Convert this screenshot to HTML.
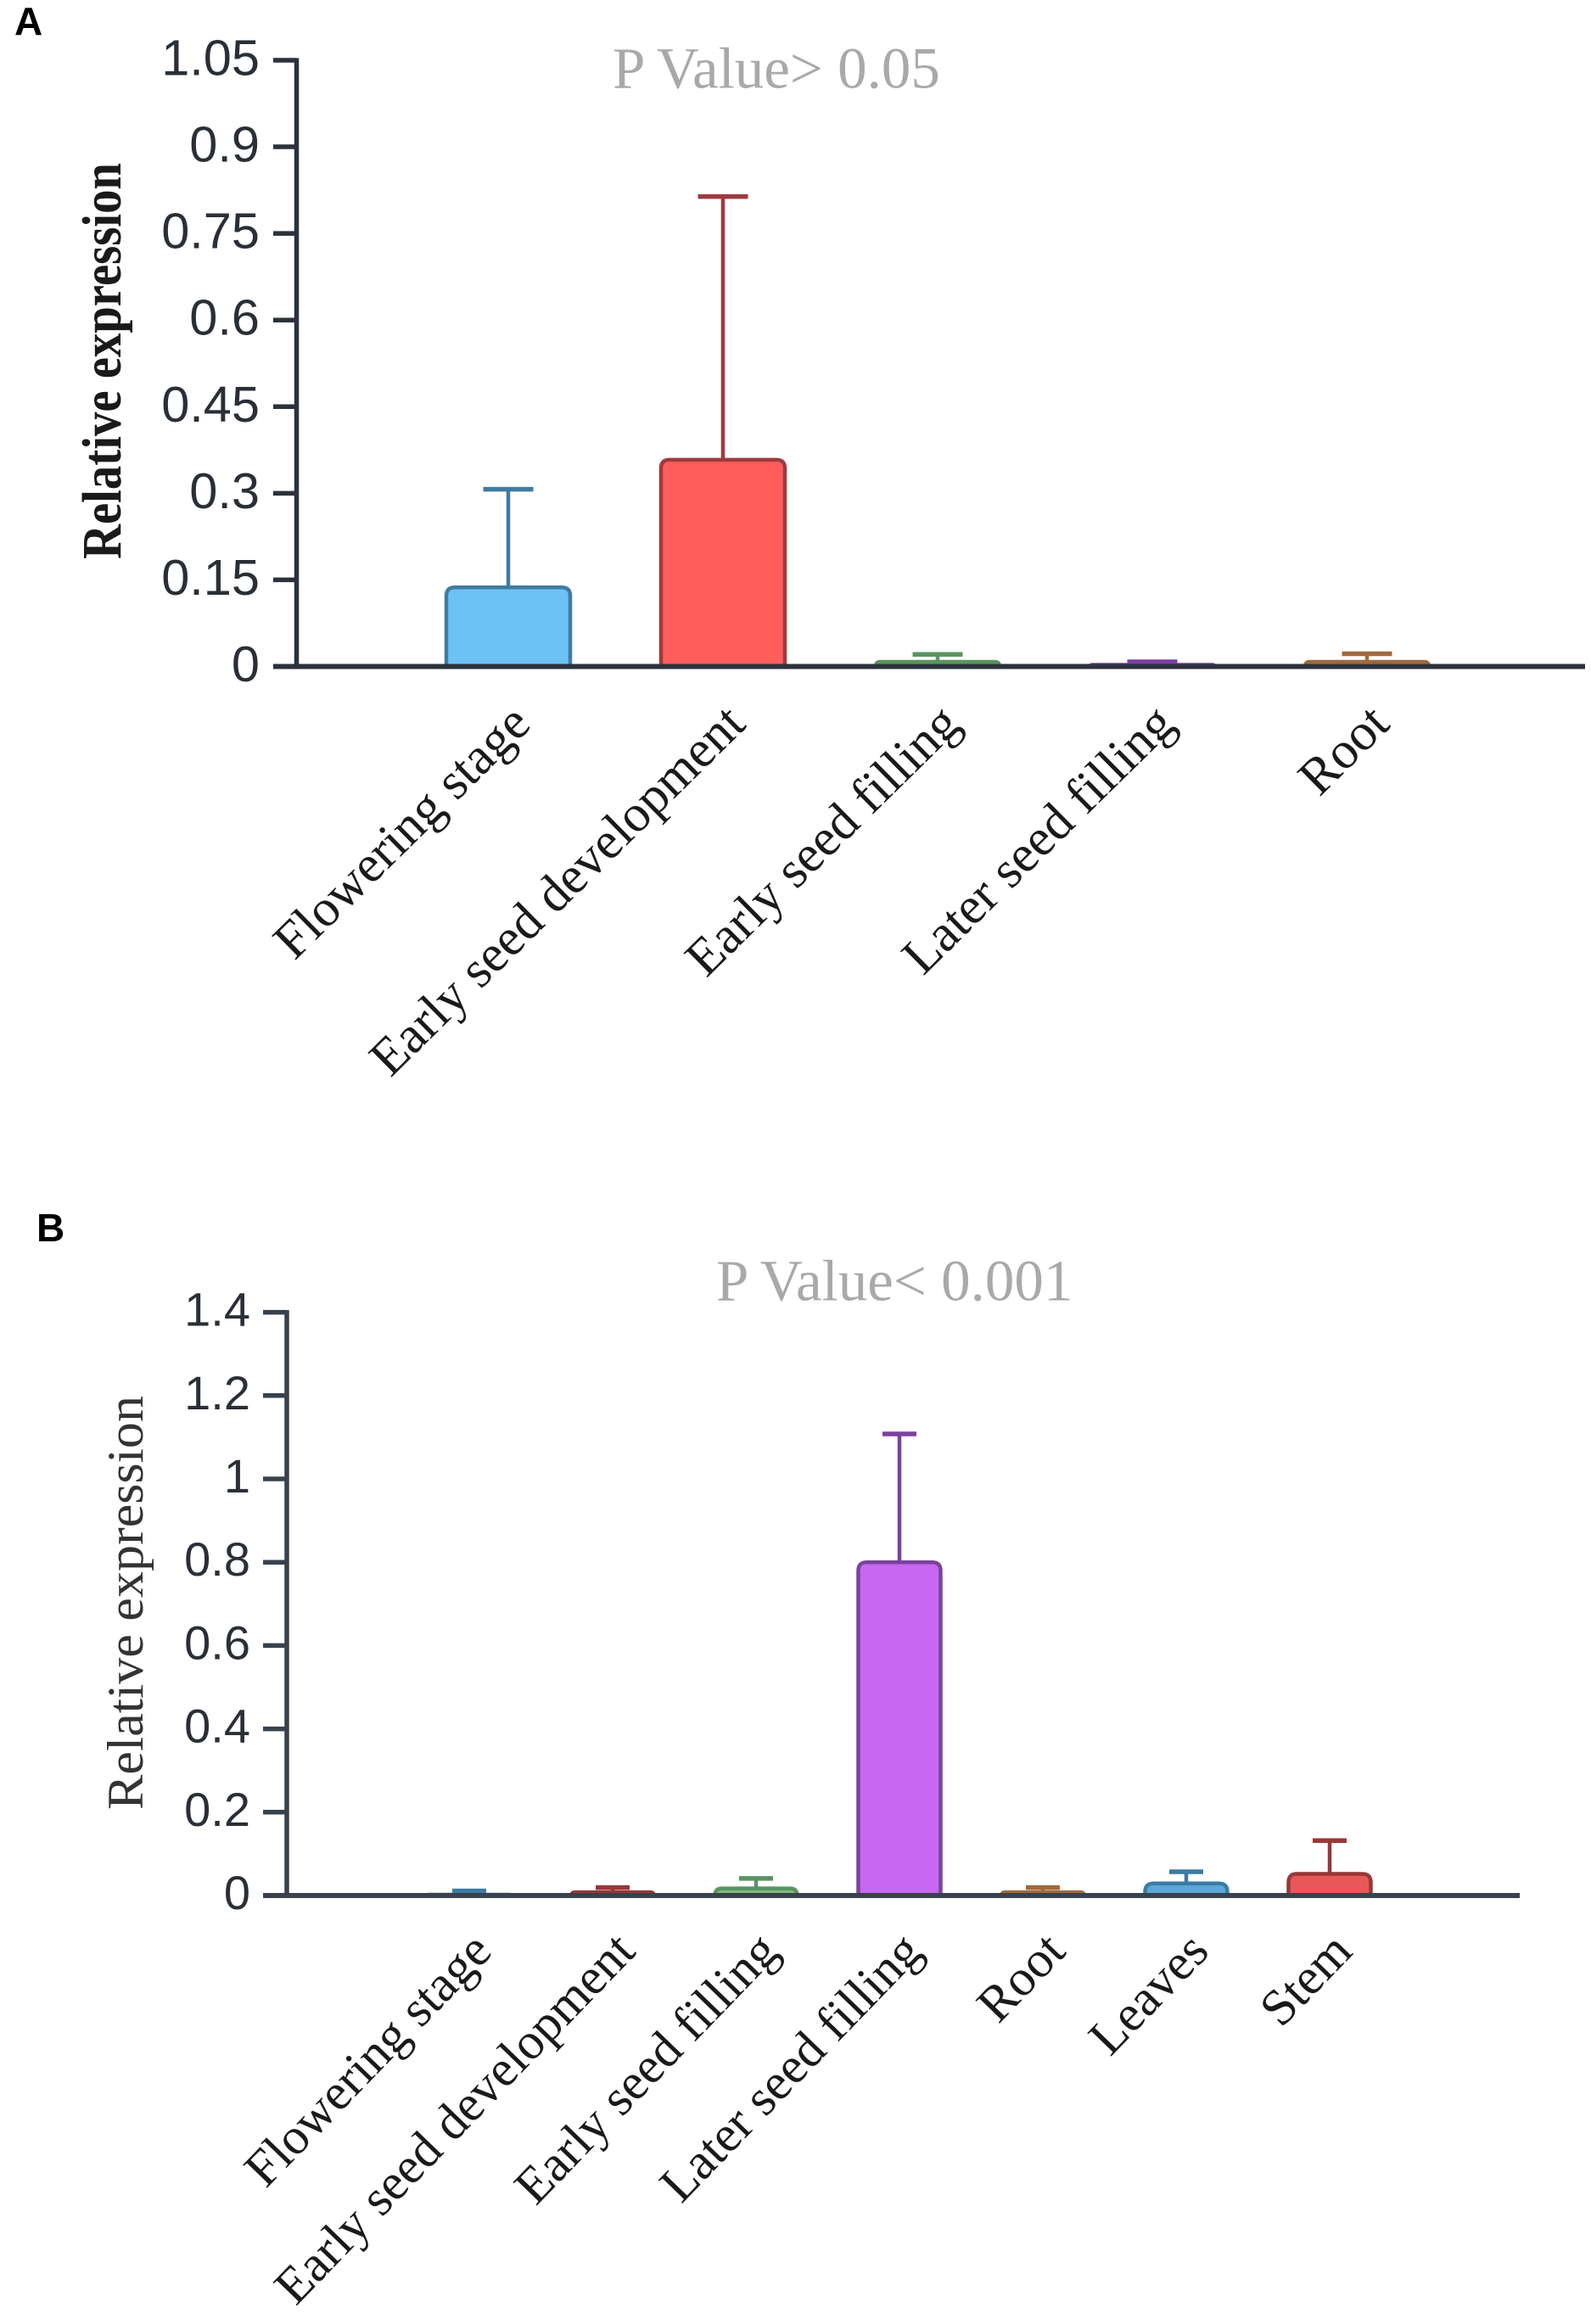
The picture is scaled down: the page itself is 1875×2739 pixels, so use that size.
<!DOCTYPE html>
<html lang="en">
<head>
<meta charset="utf-8">
<title>Relative expression across tissues</title>
<style>
  html, body { margin: 0; padding: 0; background: #fff; }
  svg { display: block; }
  .tick-label { font-family: "Liberation Sans", sans-serif; fill: #2a2f37; text-anchor: end; }
  .cat-label { font-family: "Liberation Serif", serif; fill: #1a1a1a; text-anchor: end; }
  .p-title { font-family: "Liberation Serif", serif; font-size: 69px; fill: #a9a9a9; }
  .panel-letter { font-family: "Liberation Sans", sans-serif; font-weight: bold; font-size: 46px; fill: #000; }
</style>
</head>
<body>
<svg id="figure" xmlns="http://www.w3.org/2000/svg" width="1875" height="2739" viewBox="0 0 1875 2739">
  <rect width="1875" height="2739" fill="#ffffff"/>
  <text class="panel-letter" x="17" y="41">A</text>
  <text class="panel-letter" x="43" y="1463">B</text>
  <text class="p-title" x="722" y="103.5">P Value&gt; 0.05</text>
  <text class="p-title" x="844" y="1532.5">P Value&lt; 0.001</text>
  <text transform="translate(142,659) rotate(-90)" font-family="'Liberation Serif', serif" font-weight="bold" font-size="66" fill="#1a1a1a" textLength="467" lengthAdjust="spacingAndGlyphs">Relative expression</text>
  <text transform="translate(168,2133) rotate(-90)" font-family="'Liberation Serif', serif" font-size="60" fill="#333333" textLength="488" lengthAdjust="spacingAndGlyphs">Relative expression</text>
  <g id="panel-a"></g>
  <g id="panel-b"></g>
</svg>
<script>
// Panel A data
const categoriesA = ["Flowering stage", "Early seed development", "Early seed filling", "Later seed filling", "Root"];
const meansA = [0.137, 0.358, 0.008, 0.003, 0.008];
const errorTopsA = [0.307, 0.814, 0.021, 0.008, 0.022];
const yTicksA = [0, 0.15, 0.3, 0.45, 0.6, 0.75, 0.9, 1.05];

// Panel B data
const categoriesB = ["Flowering stage", "Early seed development", "Early seed filling", "Later seed filling", "Root", "Leaves", "Stem"];
const meansB = [0.002, 0.008, 0.017, 0.8, 0.008, 0.029, 0.052];
const errorTopsB = [0.011, 0.019, 0.041, 1.108, 0.019, 0.057, 0.132];
const yTicksB = [0, 0.2, 0.4, 0.6, 0.8, 1, 1.2, 1.4];

const SVG_NS = "http://www.w3.org/2000/svg";

function make(parent, tag, attrs) {
  const el = document.createElementNS(SVG_NS, tag);
  for (const k in attrs) el.setAttribute(k, attrs[k]);
  parent.appendChild(el);
  return el;
}

function drawPanel(cfg) {
  const root = document.getElementById(cfg.id);
  const yScale = v => cfg.y0 - v * cfg.pxPerUnit;
  const xScale = i => cfg.x0 + i * cfg.step;

  cfg.categories.forEach((cat, i) => {
    const cx = xScale(i);
    const top = yScale(cfg.means[i]);
    const capY = yScale(cfg.errors[i]);
    const half = cfg.barWidth / 2;
    const pal = cfg.palette[i];
    const r = Math.min(10, Math.max(0, cfg.y0 - top));

    const whisker = make(root, "line", { x1: cx, x2: cx, y1: top, y2: capY, stroke: pal.stroke, "stroke-width": 4.5 });
    
    

    const cap = make(root, "line", { x1: cx - cfg.capWidth / 2, x2: cx + cfg.capWidth / 2, y1: capY, y2: capY, stroke: pal.stroke, "stroke-width": 5.5 });
    
    

    const d = "M" + (cx - half) + " " + cfg.y0 +
      " V" + (top + r) + " Q" + (cx - half) + " " + top + " " + (cx - half + r) + " " + top +
      " H" + (cx + half - r) + " Q" + (cx + half) + " " + top + " " + (cx + half) + " " + (top + r) +
      " V" + cfg.y0;
    const bar = make(root, "path", { d: d, fill: pal.fill, stroke: pal.stroke, "stroke-width": 4.5 });
    
    

    const label = make(root, "text", { class: "cat-label", "font-size": cfg.labelSize, transform: "translate(" + (cx + cfg.labelDx) + "," + cfg.labelY + ") rotate(" + cfg.labelAngle + ")" });
    
    
    label.textContent = cat;
  });

  // axes drawn over bars
  const yAxis = make(root, "line", { x1: cfg.axisX, x2: cfg.axisX, y1: yScale(cfg.ticks[cfg.ticks.length - 1]) - 2.5, y2: cfg.y0 + 3, stroke: cfg.axisColor, "stroke-width": 5.5 });
  
  

  const xAxis = make(root, "line", { x1: cfg.tickLeft, x2: cfg.axisRight, y1: cfg.y0, y2: cfg.y0, stroke: cfg.axisColor, "stroke-width": 6 });
  
  

  cfg.ticks.forEach(t => {
    const y = yScale(t);
    const mark = make(root, "line", { x1: cfg.tickLeft, x2: cfg.axisX, y1: y, y2: y, stroke: cfg.axisColor, "stroke-width": 5.5 });
    
    

    const label = make(root, "text", { class: "tick-label", "font-size": cfg.tickSize, x: cfg.tickLabelX, y: y + cfg.tickDy });
    
    
    label.textContent = String(t);
  });
}

drawPanel({
  id: "panel-a", categories: categoriesA, means: meansA, errors: errorTopsA, ticks: yTicksA,
  y0: 785.5, pxPerUnit: 680.5, x0: 599, step: 253, barWidth: 146, capWidth: 59,
  axisX: 349.5, tickLeft: 322, axisRight: 1868, tickLabelX: 306, tickSize: 59.5, tickDy: 17.5, axisColor: "#2b323d",
  labelDx: 29, labelY: 856, labelAngle: -44.6, labelSize: 61.5,
  palette: [
    { fill: "#6cc2f5", stroke: "#3f7c9f" },
    { fill: "#ff5c5c", stroke: "#9e3a3e" },
    { fill: "#6fb56f", stroke: "#5a9460" },
    { fill: "#c768f0", stroke: "#7e3fa0" },
    { fill: "#c98040", stroke: "#a06a3c" }
  ]
});

drawPanel({
  id: "panel-b", categories: categoriesB, means: meansB, errors: errorTopsB, ticks: yTicksB,
  y0: 2234, pxPerUnit: 491, x0: 553, step: 169, barWidth: 97, capWidth: 40,
  axisX: 338, tickLeft: 310, axisRight: 1791, tickLabelX: 295, tickSize: 56, tickDy: 16, axisColor: "#39414c",
  labelDx: 29, labelY: 2302, labelAngle: -46, labelSize: 60.3,
  palette: [
    { fill: "#5ba8d8", stroke: "#3a7ca5" },
    { fill: "#e85858", stroke: "#973838" },
    { fill: "#7dbb7d", stroke: "#5a9460" },
    { fill: "#c768f0", stroke: "#7a429e" },
    { fill: "#c98040", stroke: "#a06a3c" },
    { fill: "#5ba8d8", stroke: "#3a7ca5" },
    { fill: "#e85858", stroke: "#973838" }
  ]
});
</script>
</body>
</html>
